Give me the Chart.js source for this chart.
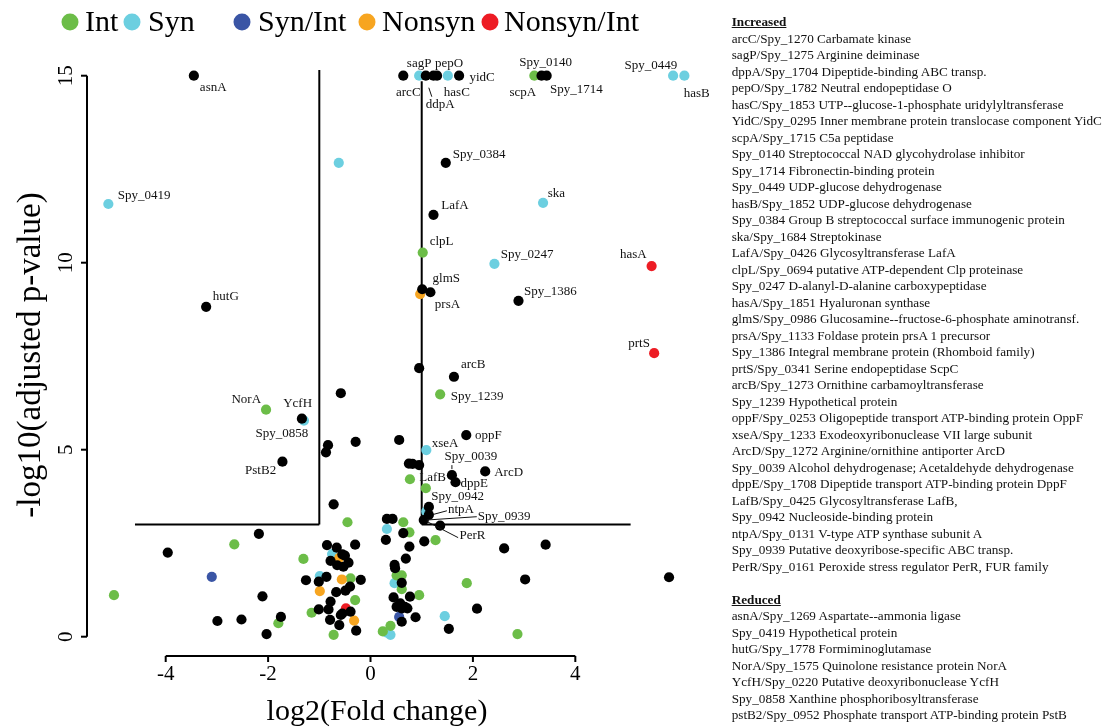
<!DOCTYPE html>
<html><head><meta charset="utf-8">
<script src="https://cdn.jsdelivr.net/npm/chart.js@4.4.1/dist/chart.umd.min.js"></script>
<style>
html,body{margin:0;padding:0;background:#fff;}
#wrap{position:relative;width:1120px;height:727px;overflow:hidden;background:#fff;}
#c{position:absolute;left:0;top:0;}
#panel{position:absolute;left:731.7px;top:14.0px;font-family:'Liberation Serif','Times New Roman',serif;font-size:13.2px;line-height:16.5px;color:#111;white-space:nowrap;}
#panel .h{font-weight:bold;text-decoration:underline;}
</style></head><body>
<div id="wrap"><canvas id="c" width="1120" height="727"></canvas><div id="panel"></div></div>
<script>
// ---------------- DATA ----------------
const categories = ['Int', 'Syn', 'Syn/Int', 'Nonsyn', 'Nonsyn/Int'];
const xTicks = [-4, -2, 0, 2, 4];
const yTicks = [0, 5, 10, 15];
const xTitle = 'log2(Fold change)';
const yTitle = '-log10(adjusted p-value)';

// labelled genes: name, category ('' = no category), log2FC, -log10 p
const genes   = ['asnA','arcC','sagP','ddpA','pepO','hasC','yidC','scpA','Spy_0140','Spy_1714','Spy_0449','hasB',
                 'Spy_0419','hutG','Spy_0384','ska','LafA','clpL','Spy_0247','hasA','glmS','prsA','Spy_1386','prtS',
                 'arcB','Spy_1239','oppF','xseA','Spy_0039','LafB','dppE','ArcD','Spy_0942','ntpA','Spy_0939','PerR',
                 'NorA','YcfH','Spy_0858','PstB2'];
const geneCat = ['','','Syn','','','Syn','','Int','','','Syn','Syn',
                 'Syn','','','Syn','','Int','Syn','Nonsyn/Int','','Nonsyn','','Nonsyn/Int',
                 '','Int','','Syn','','Int','','','','','','',
                 'Int','','Syn',''];
const geneFC  = [-3.45,0.64,0.95,1.08,1.30,1.51,1.73,3.20,3.34,3.44,5.91,6.13,
                 -5.12,-3.21,1.47,3.37,1.23,1.02,2.42,5.49,1.01,0.97,2.89,5.54,
                 1.63,1.36,1.87,1.09,1.59,0.77,1.66,2.24,1.14,1.14,1.04,1.36,
                 -2.04,-1.34,-1.30,-1.72];
const geneP   = [15,15,15,15,15,15,15,15,15,15,15,15,
                 11.57,8.82,12.67,11.60,11.28,10.27,9.97,9.91,9.29,9.16,8.98,7.58,
                 6.95,6.48,5.39,4.99,4.32,4.21,4.13,4.42,3.47,3.26,3.12,2.97,
                 6.07,5.83,5.78,4.68];

// unlabelled points per category
const otherFC = [1.23,1.17,0.95,0.56,0.75,0.82,0.95,0.32,0.43,0.64,0.30,1.05,0.76,2.61,3.42,-0.58,-0.83,-0.87,-0.29,-0.72,
                 -2.18,-3.96,-0.85,-0.30,-0.66,-0.55,-0.50,-0.78,-0.65,-0.43,-0.53,-0.86,-1.01,-1.26,-0.19,-2.11,-0.67,-0.49,-0.40,-0.78,
                 -0.82,-1.01,-0.39,-0.58,-0.55,-0.79,-0.61,-0.28,-1.75,-2.52,-2.99,-2.03,0.69,0.47,0.48,0.61,0.77,0.45,3.02,0.58,
                 0.67,0.72,0.61,0.51,0.88,0.61,2.08,1.53,5.83];
const otherP  = [15,9.21,7.18,5.26,4.63,4.62,4.59,3.15,3.15,2.77,2.59,2.55,2.41,2.36,2.46,6.51,5.12,4.93,5.21,3.54,
                 2.75,2.25,2.45,2.46,2.38,2.20,2.17,2.03,1.91,1.98,1.87,1.60,1.47,1.51,1.52,1.08,1.19,1.23,1.34,0.94,
                 0.73,0.73,0.67,0.58,0.62,0.45,0.31,0.16,0.53,0.46,0.42,0.07,2.09,1.92,1.83,1.44,1.07,1.05,1.53,0.89,
                 0.80,0.76,0.76,0.80,0.52,0.40,0.75,0.21,1.59];
const intFC = [1.08,0.64,0.76,1.27,-0.45,-2.66,-1.31,-0.39,-5.01,-0.30,-1.15,-1.80,-0.72,0.24,0.51,0.61,0.61,0.95,1.88,2.87,0.39];
const intP  = [3.97,3.06,2.79,2.58,3.06,2.47,2.08,1.56,1.11,0.98,0.64,0.36,0.05,0.14,1.64,1.64,1.27,1.11,1.43,0.07,0.29];
const synFC = [-0.62,1.09,0.32,-0.75,-0.99,0.47,1.45,0.32,0.39];
const synP  = [12.67,3.35,2.88,2.21,1.62,1.43,0.55,0.11,0.05];
const synIntFC = [-3.10,0.56];
const synIntP  = [1.60,0.53];
const nonsynFC = [-0.61,-0.56,-0.99,-0.32];
const nonsynP  = [2.11,1.53,1.22,0.43];
const nonsynIntFC = [-0.48];
const nonsynIntP  = [0.76];

// thresholds
const fcCut = 1;
const pCut = 3;

const increasedList = [
 'arcC/Spy_1270 Carbamate kinase',
 'sagP/Spy_1275 Arginine deiminase',
 'dppA/Spy_1704 Dipeptide-binding ABC transp.',
 'pepO/Spy_1782 Neutral endopeptidase O',
 'hasC/Spy_1853 UTP--glucose-1-phosphate uridylyltransferase',
 'YidC/Spy_0295 Inner membrane protein translocase component YidC',
 'scpA/Spy_1715 C5a peptidase',
 'Spy_0140 Streptococcal NAD glycohydrolase inhibitor',
 'Spy_1714 Fibronectin-binding protein',
 'Spy_0449 UDP-glucose dehydrogenase',
 'hasB/Spy_1852 UDP-glucose dehydrogenase',
 'Spy_0384 Group B streptococcal surface immunogenic protein',
 'ska/Spy_1684 Streptokinase',
 'LafA/Spy_0426 Glycosyltransferase LafA',
 'clpL/Spy_0694 putative ATP-dependent Clp proteinase',
 'Spy_0247 D-alanyl-D-alanine carboxypeptidase',
 'hasA/Spy_1851 Hyaluronan synthase',
 'glmS/Spy_0986 Glucosamine--fructose-6-phosphate aminotransf.',
 'prsA/Spy_1133 Foldase protein prsA 1 precursor',
 'Spy_1386 Integral membrane protein (Rhomboid family)',
 'prtS/Spy_0341 Serine endopeptidase ScpC',
 'arcB/Spy_1273 Ornithine carbamoyltransferase',
 'Spy_1239 Hypothetical protein',
 'oppF/Spy_0253 Oligopeptide transport ATP-binding protein OppF',
 'xseA/Spy_1233 Exodeoxyribonuclease VII large subunit',
 'ArcD/Spy_1272 Arginine/ornithine antiporter ArcD',
 'Spy_0039 Alcohol dehydrogenase; Acetaldehyde dehydrogenase',
 'dppE/Spy_1708 Dipeptide transport ATP-binding protein DppF',
 'LafB/Spy_0425 Glycosyltransferase LafB,',
 'Spy_0942 Nucleoside-binding protein',
 'ntpA/Spy_0131 V-type ATP synthase subunit A',
 'Spy_0939 Putative deoxyribose-specific ABC transp.',
 'PerR/Spy_0161 Peroxide stress regulator PerR, FUR family'
];
const reducedList = [
 'asnA/Spy_1269 Aspartate--ammonia ligase',
 'Spy_0419 Hypothetical protein',
 'hutG/Spy_1778 Formiminoglutamase',
 'NorA/Spy_1575 Quinolone resistance protein NorA',
 'YcfH/Spy_0220 Putative deoxyribonuclease YcfH',
 'Spy_0858 Xanthine phosphoribosyltransferase',
 'pstB2/Spy_0952 Phosphate transport ATP-binding protein PstB'
];

// ---------------- STYLE / LAYOUT ----------------
const FONT = "'Liberation Serif','Times New Roman',serif";
const catColors = {'':'#000000','Int':'#6cbd48','Syn':'#6ccfe0','Syn/Int':'#3a55a5','Nonsyn':'#f7a520','Nonsyn/Int':'#ed1c24'};
const legendPos = [ {dot:70, text:85}, {dot:132, text:148}, {dot:242, text:258}, {dot:367, text:382}, {dot:490, text:504} ];
// label placement relative to the point (pixels)
const labelStyle = {
 'asnA':['left',6,11.5],'arcC':['center',5,16.4],'sagP':['center',0,-12],'pepO':['center',12,-12],'hasC':['center',9,16.4],
 'ddpA':['left',0,29],'yidC':['left',10.3,2],'Spy_0140':['center',4,-13.6],'scpA':['center',-11.6,17],'Spy_1714':['left',3.3,14],
 'Spy_0449':['center',-22.3,-10.3],'hasB':['center',12.4,18],'Spy_0419':['left',9.4,-8],'hutG':['left',6.7,-10],
 'Spy_0384':['left',7,-8],'ska':['left',4.7,-9.7],'LafA':['left',7.7,-9],'clpL':['left',7,-10.7],'Spy_0247':['left',6.4,-9],
 'hasA':['right',-5,-11],'glmS':['left',10.4,-10.3],'prsA':['left',14.7,10],'Spy_1386':['left',5.6,-9],'prtS':['right',-4.3,-9.3],
 'arcB':['left',7,-12],'Spy_1239':['left',10.7,2],'oppF':['left',8.7,0],'xseA':['left',5.4,-6],'Spy_0039':['left',-7.4,-18.6],
 'LafB':['left',9.3,-2],'dppE':['left',5,1],'ArcD':['left',9,0.7],'Spy_0942':['left',2.3,-10.3],'ntpA':['left',19,-5.7],
 'Spy_0939':['left',54,-3.3],'PerR':['left',19.4,9.6],'NorA':['right',-5,-9.7],'YcfH':['left',-18.7,-14.7],
 'Spy_0858':['right',4.3,13.3],'PstB2':['right',-6.3,9.3]
};
const leaders = {
 'ddpA':[3,12,6,21], 'Spy_0039':[0,-10,0,-6], 'ntpA':[4.6,-0.4,18,-4], 'Spy_0939':[3,0,53,-3.3], 'PerR':[-13,-4,18,12]
};

// ---------------- BUILD ----------------
function pts(fc, p){ return fc.map((v,i)=>({x:v, y:p[i]})); }
function withGenes(cat, fc, p){
  const arr = pts(fc, p);
  genes.forEach((g,i)=>{ if (geneCat[i]===cat) arr.push({x:geneFC[i], y:geneP[i]}); });
  return arr;
}
const catData = {
  '': withGenes('', otherFC, otherP),
  'Int': withGenes('Int', intFC, intP),
  'Syn': withGenes('Syn', synFC, synP),
  'Syn/Int': withGenes('Syn/Int', synIntFC, synIntP),
  'Nonsyn': withGenes('Nonsyn', nonsynFC, nonsynP),
  'Nonsyn/Int': withGenes('Nonsyn/Int', nonsynIntFC, nonsynIntP)
};
const drawOrder = ['', 'Nonsyn/Int', 'Nonsyn', 'Syn/Int', 'Int', 'Syn'];
const datasets = drawOrder.map((c,i)=>({
  label: c || 'other', data: catData[c], order: i,
  backgroundColor: catColors[c], borderWidth: 0, pointRadius: 5.1, pointHoverRadius: 5.1
}));

// panel
const panel = document.getElementById('panel');
function addLine(t, cls){ const d=document.createElement('div'); d.textContent=t||'\u00a0'; if(cls) d.className=cls; panel.appendChild(d); }
addLine('Increased','h'); increasedList.forEach(t=>addLine(t)); addLine(''); addLine('Reduced','h'); reducedList.forEach(t=>addLine(t));

const overlay = {
  id:'overlay',
  beforeDatasetsDraw(chart){
    const {ctx, scales:{x,y}} = chart;
    ctx.save();
    ctx.strokeStyle='#000'; ctx.lineWidth=2; ctx.lineCap='butt';
    const segs = [
      [-4.6, pCut, -fcCut, pCut], [-fcCut, pCut, -fcCut, 15.15],
      [fcCut, pCut, fcCut, 14.85], [fcCut, pCut, 5.08, pCut]
    ];
    segs.forEach(s=>{ ctx.beginPath(); ctx.moveTo(x.getPixelForValue(s[0]), y.getPixelForValue(s[1])); ctx.lineTo(x.getPixelForValue(s[2]), y.getPixelForValue(s[3])); ctx.stroke(); });
    ctx.restore();
  },
  afterDatasetsDraw(chart){
    const {ctx, chartArea:a, scales:{x,y}} = chart;
    ctx.save();
    ctx.strokeStyle='#000'; ctx.fillStyle='#000'; ctx.lineWidth=2;
    // x axis
    const xa = a.bottom;
    ctx.beginPath(); ctx.moveTo(x.getPixelForValue(xTicks[0]), xa); ctx.lineTo(x.getPixelForValue(xTicks[xTicks.length-1]), xa); ctx.stroke();
    ctx.font = '21px ' + FONT; ctx.textAlign='center'; ctx.textBaseline='middle';
    xTicks.forEach(t=>{ const px=x.getPixelForValue(t); ctx.beginPath(); ctx.moveTo(px, xa); ctx.lineTo(px, xa+6); ctx.stroke(); ctx.fillText(String(t), px, 674); });
    // y axis
    const ya = a.left;
    ctx.beginPath(); ctx.moveTo(ya, y.getPixelForValue(yTicks[0])); ctx.lineTo(ya, y.getPixelForValue(yTicks[yTicks.length-1])); ctx.stroke();
    yTicks.forEach(t=>{ const py=y.getPixelForValue(t); ctx.beginPath(); ctx.moveTo(ya, py); ctx.lineTo(ya-6, py); ctx.stroke();
      ctx.save(); ctx.translate(66, py); ctx.rotate(-Math.PI/2); ctx.fillText(String(t), 0, 0); ctx.restore(); });
    // titles
    ctx.font = '30px ' + FONT; ctx.fillText(xTitle, 377, 712);
    ctx.save(); ctx.font = '33px ' + FONT; ctx.translate(31, 355); ctx.rotate(-Math.PI/2); ctx.fillText(yTitle, 0, 0); ctx.restore();
    // labels
    ctx.font = '13px ' + FONT; ctx.fillStyle='#111'; ctx.strokeStyle='#111'; ctx.lineWidth=1;
    genes.forEach((g,i)=>{
      const st = labelStyle[g]; if(!st) return;
      const px = x.getPixelForValue(geneFC[i]), py = y.getPixelForValue(geneP[i]);
      ctx.textAlign = st[0]; ctx.textBaseline='middle';
      ctx.fillText(g, px+st[1], py+st[2]);
      const L = leaders[g];
      if (L){ ctx.beginPath(); ctx.moveTo(px+L[0], py+L[1]); ctx.lineTo(px+L[2], py+L[3]); ctx.stroke(); }
    });
    // legend
    ctx.font = '30px ' + FONT; ctx.textAlign='left'; ctx.textBaseline='middle';
    categories.forEach((c,i)=>{
      ctx.fillStyle = catColors[c]; ctx.beginPath(); ctx.arc(legendPos[i].dot, 22, 8.5, 0, Math.PI*2); ctx.fill();
      ctx.fillStyle = '#000'; ctx.fillText(c, legendPos[i].text, 23.5);
    });
    ctx.restore();
  }
};

new Chart(document.getElementById('c'), {
  type:'scatter',
  data:{ datasets },
  options:{
    responsive:false, animation:false, devicePixelRatio:1, events:[],
    layout:{ padding:{ left:87, right:1120-698, top:60, bottom:727-656 } },
    plugins:{ legend:{display:false}, tooltip:{enabled:false} },
    scales:{
      x:{ type:'linear', display:false, min:-5.537, max:6.396 },
      y:{ type:'linear', display:false, min:-0.516, max:15.42 }
    }
  },
  plugins:[overlay]
});
</script>
</body></html>
